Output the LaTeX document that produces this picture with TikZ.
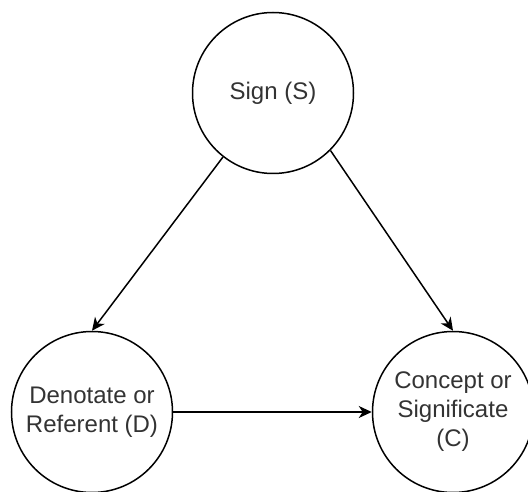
\documentclass[tikz,border=0pt]{standalone}
\usepackage{fontspec}
\setmainfont{Liberation Sans}
\usetikzlibrary{arrows.meta}
\definecolor{labelgray}{HTML}{333333}
\tikzset{
  term/.style={circle, draw=black, line width=1.5pt, minimum size=161pt,
    inner sep=0pt, align=center, text=labelgray,
    font=\fontsize{24}{29}\selectfont},
  link/.style={draw=black, line width=1.5pt,
    -{Stealth[length=13pt, width=12pt, inset=4pt]}}
}
\begin{document}
\begin{tikzpicture}[x=1pt, y=1pt]
  \useasboundingbox (0,0) rectangle (528,491);
  \node[term] (S) at (273,398) {Sign (S)};
  \node[term] (D) at (92,79) {Denotate or\\Referent (D)};
  \node[term] (C) at (453,79) {Concept or\\Significate\\(C)};
  \draw[link] (S.232) -- (D.north);
  \draw[link] (S.315) -- (C.north);
  \draw[link] (D.east) -- (C.west);
\end{tikzpicture}
\end{document}
